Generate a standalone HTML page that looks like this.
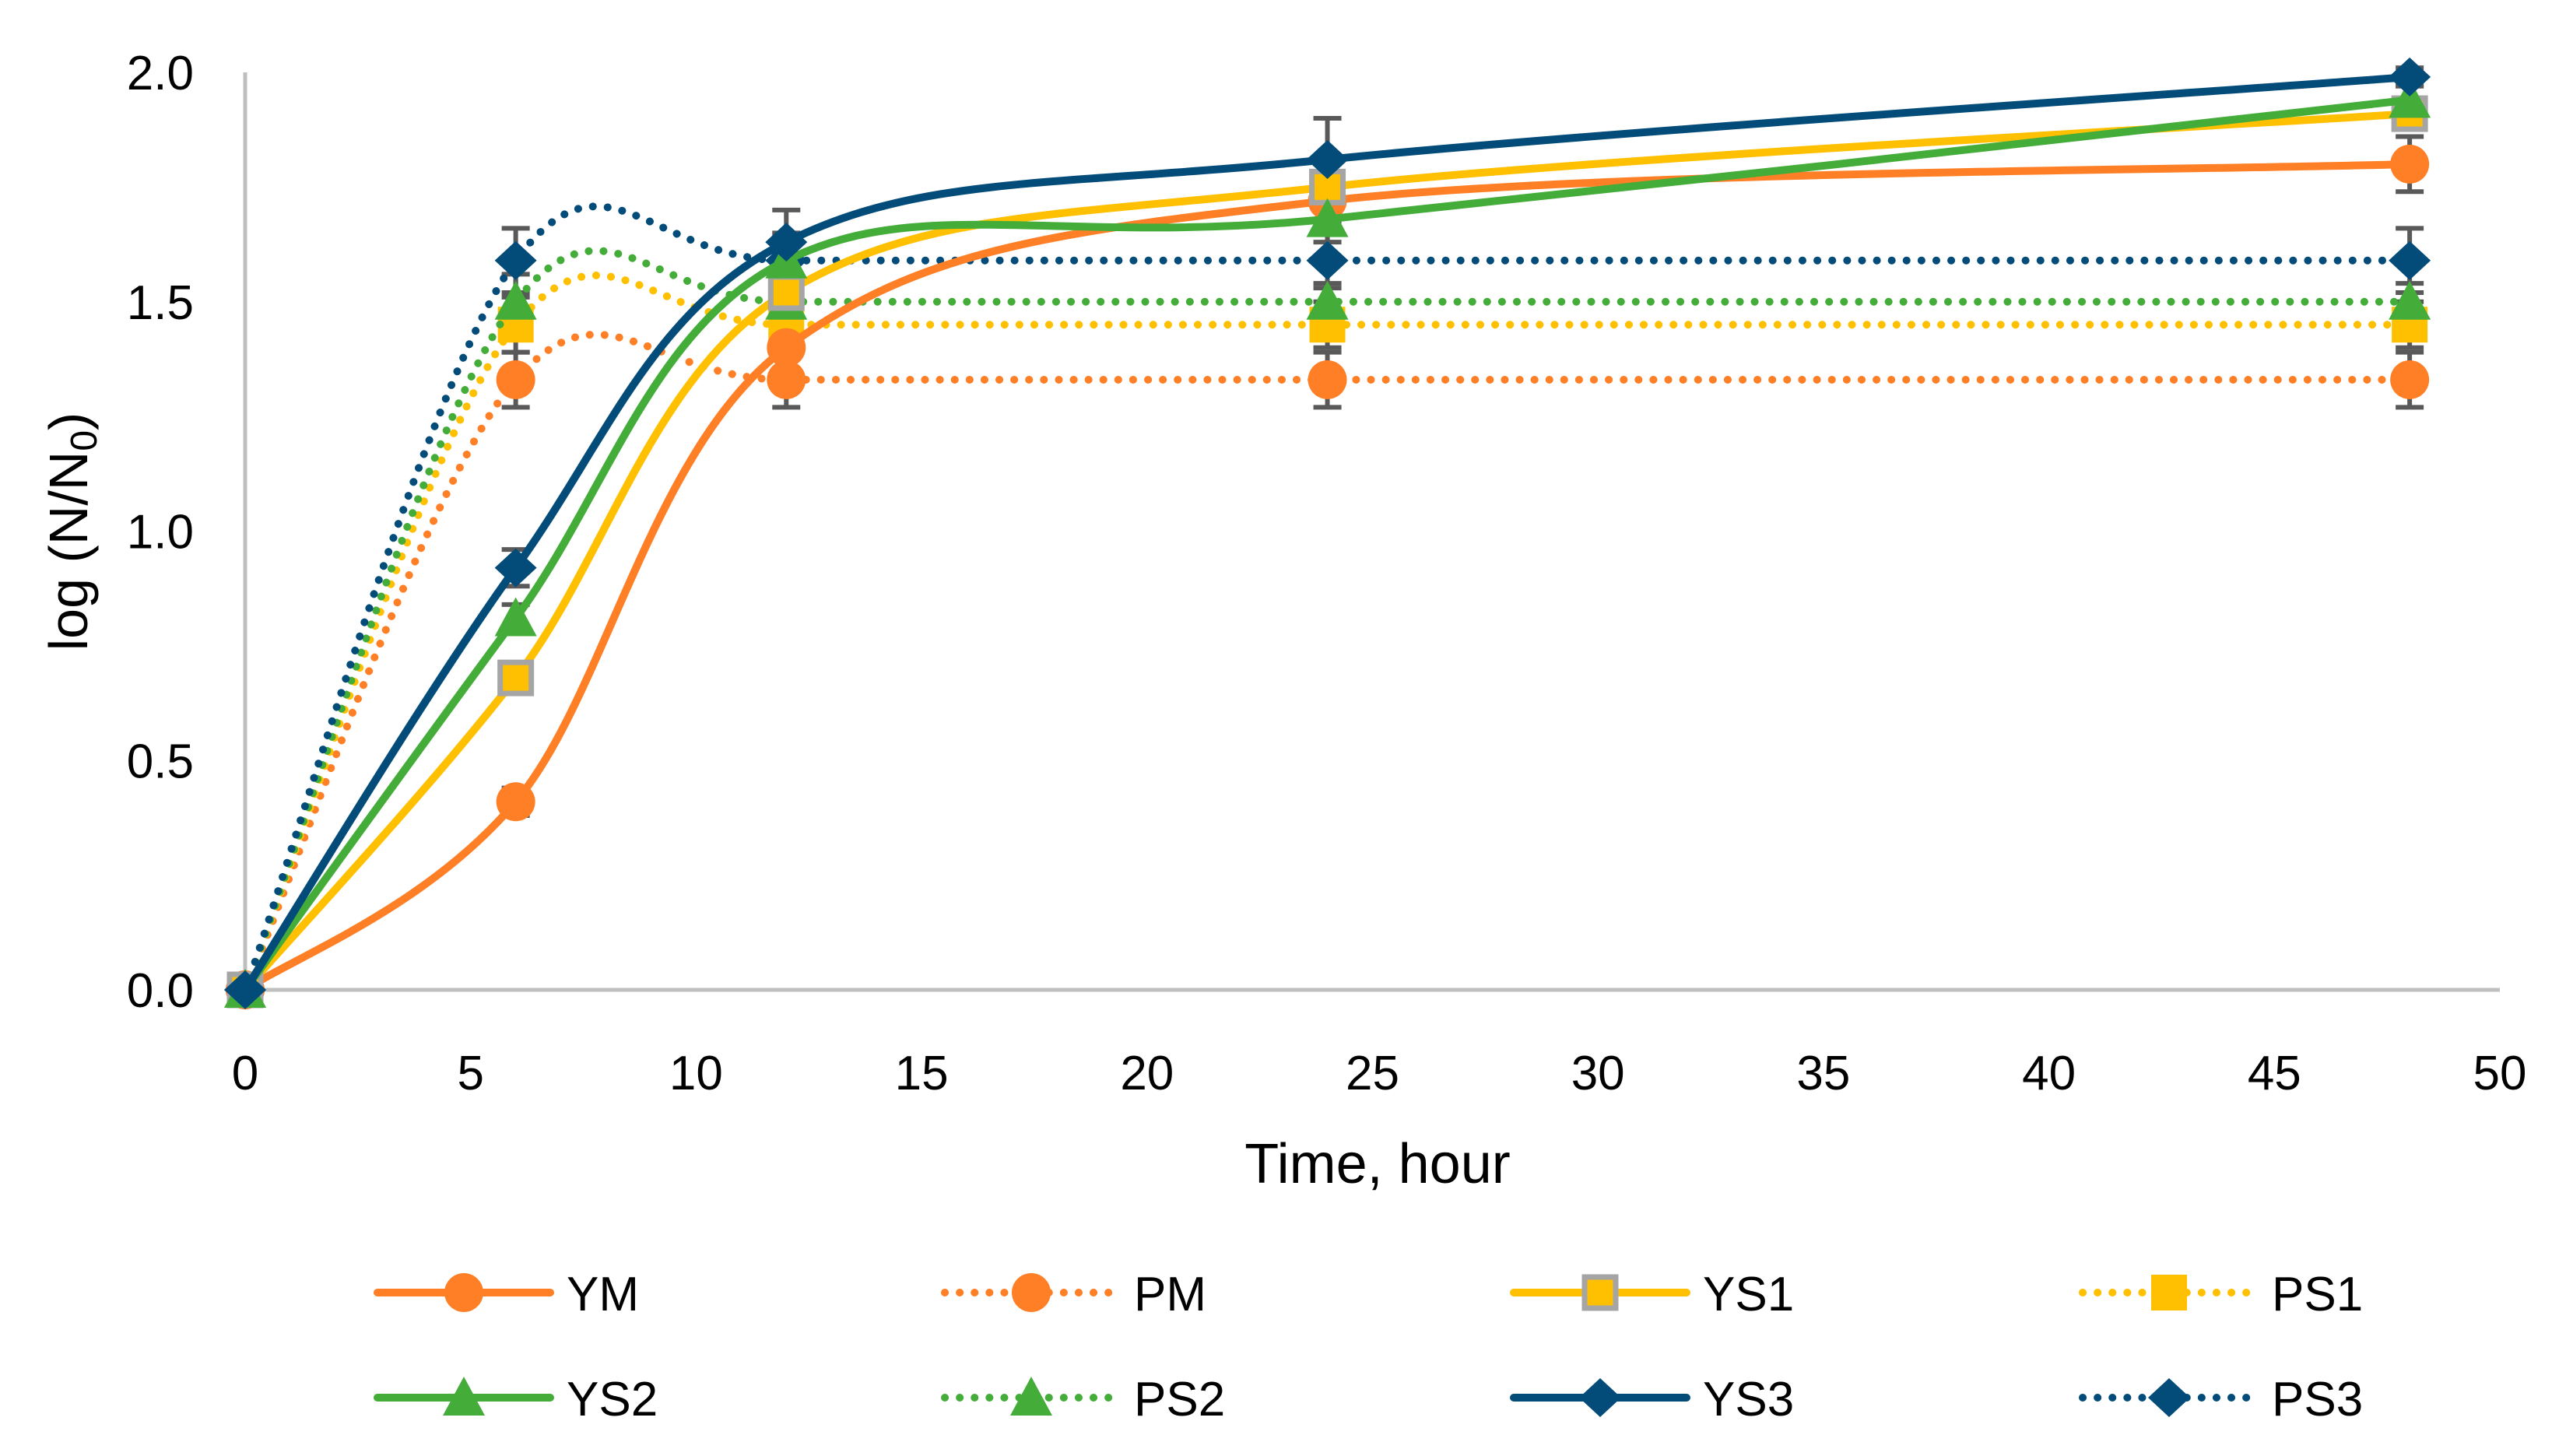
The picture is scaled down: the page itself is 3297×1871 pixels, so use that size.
<!DOCTYPE html>
<html><head><meta charset="utf-8"><style>
html,body{margin:0;padding:0;background:#fff;}
svg{display:block;font-family:"Liberation Sans","DejaVu Sans",sans-serif;}
</style></head><body>
<svg id="chart" width="3297" height="1871" viewBox="0 0 3297 1871" xmlns="http://www.w3.org/2000/svg">
<rect width="3297" height="1871" fill="#fff"/>
<g id="axes"></g><g id="series"></g><g id="legend"></g>
</svg>
<script>
const times=[0,6,12,24,48];
const xTicks=[0,5,10,15,20,25,30,35,40,45,50];
const yTicks=[0.0,0.5,1.0,1.5,2.0];
const seriesNames=["YM","PM","YS1","PS1","YS2","PS2","YS3","PS3"];
const YM=[0,0.41,1.40,1.72,1.80];
const PM=[0,1.33,1.33,1.33,1.33];
const YS1=[0,0.68,1.52,1.75,1.91];
const PS1=[0,1.45,1.45,1.45,1.45];
const YS2=[0,0.81,1.59,1.68,1.94];
const PS2=[0,1.50,1.50,1.50,1.50];
const YS3=[0,0.92,1.63,1.81,1.99];
const PS3=[0,1.59,1.59,1.59,1.59];
const errYM=[0,0.03,0.05,0.05,0.06];
const errPM=[0,0.06,0.06,0.06,0.06];
const errYS1=[0,0.02,0.05,0.05,0.03];
const errPS1=[0,0.06,0.05,0.05,0.05];
const errYS2=[0,0.03,0.05,0.05,0.03];
const errPS2=[0,0.06,0.04,0.04,0.04];
const errYS3=[0,0.04,0.07,0.09,0.02];
const errPS3=[0,0.07,0.06,0.06,0.07];

const NS="http://www.w3.org/2000/svg";
const X0=315,X1=3212,Y0=1272,Y1=93;
const sx=v=>X0+(v-0)/(50-0)*(X1-X0);
const sy=v=>Y0+(v-0)/(2-0)*(Y1-Y0);
function mk(tag,attrs,parent){const e=document.createElementNS(NS,tag);for(const k in attrs)e.setAttribute(k,attrs[k]);parent.appendChild(e);return e;}
const axes=document.getElementById('axes'),sg=document.getElementById('series'),lg=document.getElementById('legend');

let e=mk('line',{x1:X0,y1:Y1,x2:X0,y2:Y0,stroke:'#bfbfbf','stroke-width':5},axes);

e=mk('line',{x1:X0,y1:Y0,x2:X1,y2:Y0,stroke:'#bfbfbf','stroke-width':5},axes);

xTicks.forEach(t=>{const el=mk('text',{x:sx(t),y:1400,'text-anchor':'middle','font-size':62,fill:'#000'},axes);el.textContent=t;
});
yTicks.forEach(t=>{const el=mk('text',{x:249,y:sy(t)+22,'text-anchor':'end','font-size':62,fill:'#000'},axes);el.textContent=t.toFixed(1);
});
e=mk('text',{x:1770,y:1520,'text-anchor':'middle','font-size':72,fill:'#000'},axes);e.textContent='Time, hour';

e=mk('text',{x:0,y:0,'text-anchor':'middle','font-size':70,fill:'#000',transform:'translate(112,683) rotate(-90)'},axes);
e.innerHTML='log (N/N<tspan font-size="48" dy="12">0</tspan><tspan dy="-12">)</tspan>';


const colors={YM:'#fe7f25',PM:'#fe7f25',YS1:'#fec000',PS1:'#fec000',YS2:'#44ad39',PS2:'#44ad39',YS3:'#034c7a',PS3:'#034c7a'};
const markers={YM:'circle',PM:'circle',YS1:'squareG',PS1:'square',YS2:'tri',PS2:'tri',YS3:'diamond',PS3:'diamond'};
const dataMap={YM,PM,YS1,PS1,YS2,PS2,YS3,PS3};
const errMap={YM:errYM,PM:errPM,YS1:errYS1,PS1:errPS1,YS2:errYS2,PS2:errPS2,YS3:errYS3,PS3:errPS3};

function smoothPath(pts){
  let d=`M${pts[0][0]},${pts[0][1]}`;
  for(let i=0;i<pts.length-1;i++){
    const p0=pts[Math.max(0,i-1)],p1=pts[i],p2=pts[i+1],p3=pts[Math.min(pts.length-1,i+2)];
    const c1=[p1[0]+(p2[0]-p0[0])/6,p1[1]+(p2[1]-p0[1])/6];
    const c2=[p2[0]-(p3[0]-p1[0])/6,p2[1]-(p3[1]-p1[1])/6];
    d+=` C${c1[0]},${c1[1]} ${c2[0]},${c2[1]} ${p2[0]},${p2[1]}`;
  }
  return d;
}
function marker(type,x,y,color,parent,name){
  let m;
  if(type==='circle')m=mk('ellipse',{cx:x,cy:y,rx:25,ry:25,fill:color},parent);
  else if(type==='square')m=mk('rect',{x:x-23,y:y-23,width:46,height:46,fill:color},parent);
  else if(type==='squareG')m=mk('rect',{x:x-20,y:y-20,width:40,height:40,fill:color,stroke:'#a5a5a5','stroke-width':7},parent);
  else if(type==='tri')m=mk('polygon',{points:`${x},${y-27} ${x+27},${y+23} ${x-27},${y+23}`,fill:color},parent);
  else m=mk('polygon',{points:`${x},${y-25} ${x+27},${y} ${x},${y+25} ${x-27},${y}`,fill:color},parent);
  
  
}
const order=["PM","PS1","PS2","PS3","YM","YS1","YS2","YS3"];
order.forEach(n=>{const vals=dataMap[n],er=errMap[n];
  times.forEach((t,i)=>{if(er[i]<=0)return;const x=sx(t);
    const g=mk('g',{stroke:'#595959','stroke-width':6},sg);
    
    
    mk('line',{x1:x,y1:sy(vals[i]-er[i]),x2:x,y2:sy(vals[i]+er[i])},g);
    mk('line',{x1:x-18,y1:sy(vals[i]-er[i]),x2:x+18,y2:sy(vals[i]-er[i])},g);
    mk('line',{x1:x-18,y1:sy(vals[i]+er[i]),x2:x+18,y2:sy(vals[i]+er[i])},g);
  });});
order.forEach(n=>{const vals=dataMap[n];const dotted=n[0]==='P';
  const pts=times.map((t,i)=>[sx(t),sy(vals[i])]);
  const p=mk('path',{d:smoothPath(pts),fill:'none',stroke:colors[n],'stroke-width':10,'stroke-linecap':'round','stroke-dasharray':dotted?'0.1 19':'none'},sg);
  
  
  pts.forEach(pt=>marker(markers[n],pt[0],pt[1],colors[n],sg,'marker-'+n.toLowerCase()));
});
const lx=[485,1214,1945,2676],ly=[1661,1796];
seriesNames.forEach((n,i)=>{const x=lx[i%4],y=ly[Math.floor(i/4)];const dotted=n[0]==='P';
  const g=mk('g',{},lg);
  
  
  mk('line',{x1:x,y1:y,x2:x+222,y2:y,stroke:colors[n],'stroke-width':10,'stroke-linecap':'round','stroke-dasharray':dotted?'0.1 19':'none'},g);
  marker(markers[n],x+111,y,colors[n],g,'legend-marker');
  const t=mk('text',{x:x+243,y:y+23,'font-size':62,fill:'#000'},g);t.textContent=n;
});
</script>
</body></html>
